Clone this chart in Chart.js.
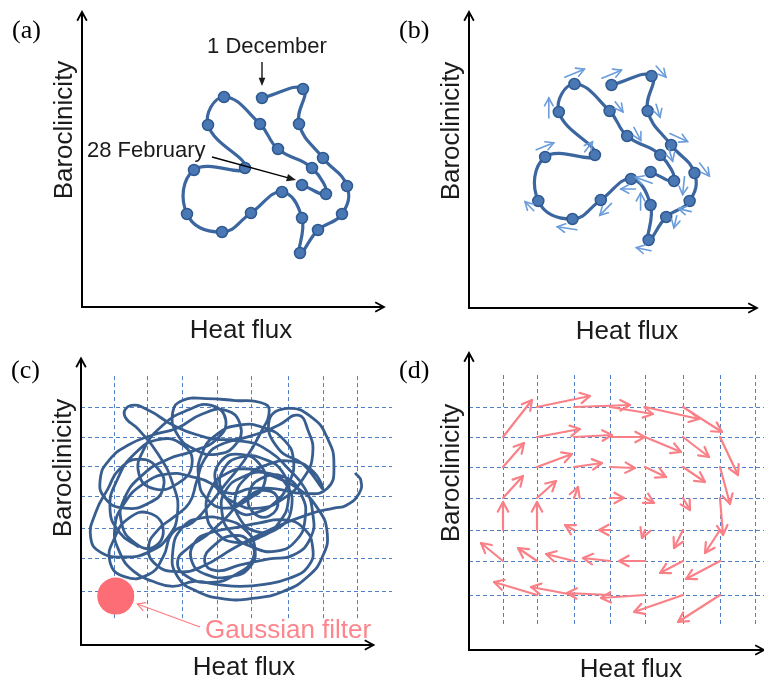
<!DOCTYPE html>
<html>
<head>
<meta charset="utf-8">
<script src="https://cdn.jsdelivr.net/npm/chart.js@4.4.1/dist/chart.umd.min.js"></script>
<style>
  body { margin: 0; background: #fff; width: 764px; height: 681px; position: relative; overflow: hidden; }
  canvas { position: absolute; }
</style>
</head>
<body>
<canvas id="pa" width="392" height="340" style="left:0;top:0"></canvas>
<canvas id="pb" width="382" height="340" style="left:382px;top:0"></canvas>
<canvas id="pc" width="392" height="341" style="left:0;top:340px"></canvas>
<canvas id="pd" width="382" height="341" style="left:382px;top:340px"></canvas>
<script>
// one winter, 1 December -> 28 February (heat flux, baroclinicity)
const dayHeat = [180, 221, 217, 241, 265, 260, 236, 218, 220, 200, 169, 140, 105, 112, 163, 126, 142, 178, 196, 230, 244, 220];
const dayBaro = [209, 218, 183, 149, 121, 93, 77, 54, 89, 115, 94, 75, 93, 137, 139, 182, 210, 183, 158, 139, 113, 122];
// tendency at each day (panel b)
const tendU = [20, 10, 4, 18, 10, -13, -3, -15, 0, -15, -12, -20, -9, 18, 8, 0, 20, 8, 7, 4, -2, -17];
const tendV = [8, -11, -13, -8, -13, 3, -12, 3, 17, 0, -12, 3, 9, 7, 10, 20, 8, -10, -13, -13, -18, 6];

// many winters stacked (panel c)
const longHeat = [60, 40, 30, 38, 55, 80, 105, 115, 100, 75, 60, 65, 85, 110, 135, 150, 140, 115, 90, 65,
  45, 42, 55, 75, 85, 70, 50, 35, 30, 45, 70, 85, 95, 115, 130, 150, 170, 185, 195,
  186, 160, 130, 105, 95, 100, 118, 140, 160, 165, 150, 125, 100, 75, 50, 30, 20, 25, 45, 70,
  85, 80, 60, 40, 28, 15, 10, 20, 45, 70, 90, 100, 95, 80, 60, 45, 52, 70, 95, 120,
  150, 180, 205, 225, 235, 240, 230, 210, 185, 160, 145, 148, 165, 190, 210, 215, 205, 185, 160, 140,
  130, 135, 150, 175, 200, 225, 245, 255, 250, 235, 210, 180, 150, 120, 100, 95, 105, 125, 150, 170,
  180, 175, 155, 130, 115, 118, 135, 160, 185, 210, 230, 240, 235, 215, 190, 165, 140, 118, 95, 75,
  55, 40, 35, 45, 65, 90, 115, 135, 150, 165, 180, 200, 215, 220, 210, 190, 165, 140, 125, 122,
  130, 150, 175, 190, 185, 165, 145, 140, 155, 175, 200, 230, 255, 262, 255, 240, 215, 195, 205, 230,
  250, 240, 218, 192, 172, 160, 164, 182, 205, 218, 212, 192, 168, 150, 146, 156, 178, 202, 222, 232,
  228, 210, 186, 174, 178, 195, 204, 192, 170, 150, 130, 112, 100, 110, 135, 160, 178, 175, 158, 138,
  128, 140, 165, 195, 220, 238, 240, 232, 215, 195, 170, 145, 128, 120, 112, 95, 80, 70, 78, 100,
  125, 160, 200, 240, 262, 275, 288, 290, 284];
const longBaro = [100, 115, 140, 170, 195, 210, 205, 185, 165, 160, 175, 200, 225, 240, 245, 230, 210, 198, 190, 175,
  150, 125, 105, 100, 120, 135, 130, 110, 85, 70, 72, 90, 115, 125, 140, 165, 190, 215, 240,
  248, 250, 252, 250, 238, 215, 200, 195, 205, 225, 240, 236, 222, 215, 205, 190, 170, 150, 140, 145,
  160, 180, 190, 180, 160, 135, 110, 95, 90, 95, 110, 135, 165, 195, 220, 235, 245, 240, 225, 215,
  210, 215, 225, 235, 220, 195, 170, 150, 140, 145, 160, 180, 192, 190, 175, 150, 125, 110, 105, 115,
  135, 160, 175, 180, 172, 160, 140, 115, 90, 70, 55, 48, 47, 55, 70, 95, 120, 130, 128, 118,
  100, 80, 70, 72, 85, 105, 115, 120, 125, 128, 120, 100, 80, 68, 62, 60, 62, 65, 60, 65,
  75, 95, 120, 145, 165, 175, 172, 165, 150, 135, 135, 145, 165, 190, 210, 222, 225, 215, 195, 170,
  150, 140, 150, 165, 185, 195, 188, 165, 155, 160, 160, 155, 160, 185, 212, 232, 242, 230, 200, 185,
  160, 178, 188, 184, 172, 152, 130, 116, 120, 140, 165, 176, 172, 158, 136, 114, 100, 96, 106, 128,
  154, 172, 170, 154, 136, 132, 148, 158, 150, 130, 112, 100, 85, 70, 64, 72, 88, 105, 112, 102,
  86, 76, 82, 88, 92, 110, 135, 160, 180, 198, 208, 205, 190, 168, 145, 130, 118, 100, 82, 75,
  80, 100, 120, 135, 140, 143, 155, 168, 176];

// bins of the phase space (panels c, d)
const gridHeat = [34, 68, 105, 141, 176, 214, 251, 286];
const gridBaro = [55, 89, 120, 152, 183, 213, 243];
const filterHeat = [36];
const filterBaro = [50];

// mean tendency in each bin (panel d): tail position and vector
const flowHeat = [68, 105, 141, 176, 214,
  34, 68, 105, 141, 176, 214, 251,
  34, 68, 105, 141, 176, 214, 251,
  34, 68, 105, 141, 176, 214, 251,
  34, 68, 105, 141, 176, 214, 251,
  34, 68, 105, 141, 176, 214, 251,
  68, 105, 141, 176, 214, 251];
const flowBaro = [243, 243, 243, 243, 243,
  213, 213, 213, 213, 213, 213, 213,
  183, 183, 183, 183, 183, 183, 183,
  152, 152, 152, 152, 152, 152, 152,
  120, 120, 120, 120, 120, 120, 120,
  89, 89, 89, 89, 89, 89, 89,
  55, 55, 55, 55, 55, 55];
const flowU = [53, 56, 43, 54, 39,
  29, 43, 38, 35, 36, 26, 18,
  21, 35, 28, 25, 21, 22, 10,
  20, 19, 4, 14, 9, 7, 3,
  0, 0, -9, -11, -3, -9, -15,
  -22, -19, -28, -27, -26, -23, -34,
  -43, -43, -43, -44, -49, -42];
const flowV = [11, 2, -7, -12, -25,
  37, 8, 2, 0, -15, -20, -38,
  24, 13, 4, -1, -10, -15, -37,
  22, 17, 11, 0, -5, -12, -37,
  28, 28, 5, 0, -8, -18, -23,
  18, 13, 7, 3, 0, -12, -18,
  13, 8, 2, -3, -17, -27];

const SANS = '"Liberation Sans", Arial, sans-serif';
const SERIF = '"Liberation Serif", "Times New Roman", serif';

function pts(xs, ys) {
  return xs.map((x, i) => ({x: x, y: ys[i]}));
}

function arrow(ctx, x1, y1, x2, y2, head, filled) {
  const a = Math.atan2(y2 - y1, x2 - x1);
  const w = filled ? 0.38 : 0.5;
  ctx.beginPath();
  ctx.moveTo(x1, y1);
  ctx.lineTo(filled ? x2 - head * 0.8 * Math.cos(a) : x2, filled ? y2 - head * 0.8 * Math.sin(a) : y2);
  ctx.stroke();
  ctx.beginPath();
  ctx.moveTo(x2 - head * Math.cos(a - w), y2 - head * Math.sin(a - w));
  ctx.lineTo(x2, y2);
  ctx.lineTo(x2 - head * Math.cos(a + w), y2 - head * Math.sin(a + w));
  if (filled) { ctx.closePath(); ctx.fill(); } else { ctx.stroke(); }
}

// axes with arrow tips, axis titles and the panel letter
function frame(letter, heatDx, heatDy) {
  return {
    id: 'frame',
    afterDraw(chart) {
      const ctx = chart.ctx, a = chart.chartArea;
      ctx.save();
      ctx.strokeStyle = '#000';
      ctx.lineWidth = 2;
      ctx.beginPath();
      ctx.moveTo(a.left, a.top + 1);
      ctx.lineTo(a.left, a.bottom);
      ctx.lineTo(a.right - 1, a.bottom);
      ctx.stroke();
      ctx.lineWidth = 1.8;
      arrow(ctx, a.left, a.bottom, a.left, a.top, 10, false);
      arrow(ctx, a.left, a.bottom, a.right, a.bottom, 10, false);

      ctx.fillStyle = '#1b1b1b';
      ctx.font = '26px ' + SANS;
      ctx.textAlign = 'center';
      ctx.textBaseline = 'alphabetic';
      ctx.fillText('Heat flux', a.left + heatDx, a.bottom + heatDy);
      ctx.translate(a.left - 10, a.bottom - 177);
      ctx.rotate(-Math.PI / 2);
      ctx.fillText('Baroclinicity', 0, 0);
      ctx.restore();

      ctx.save();
      ctx.fillStyle = '#000';
      ctx.font = '26px ' + SERIF;
      ctx.textAlign = 'left';
      ctx.fillText(letter, a.left - 70, 38);
      ctx.restore();
    }
  };
}

// dashed bins behind the data
const binGrid = {
  id: 'binGrid',
  beforeDatasetsDraw(chart) {
    const ctx = chart.ctx, a = chart.chartArea, xs = chart.scales.x, ys = chart.scales.y;
    ctx.save();
    ctx.strokeStyle = '#4f7fc6';
    ctx.lineWidth = 1;
    ctx.setLineDash([4, 3]);
    const yTop = ys.getPixelForValue(275), yBot = ys.getPixelForValue(25);
    gridHeat.forEach(v => {
      const x = Math.round(xs.getPixelForValue(v)) + 0.5;
      ctx.beginPath(); ctx.moveTo(x, yTop); ctx.lineTo(x, yBot); ctx.stroke();
    });
    gridBaro.forEach(v => {
      const y = Math.round(ys.getPixelForValue(v)) + 0.5;
      ctx.beginPath(); ctx.moveTo(a.left, y); ctx.lineTo(chart.width, y); ctx.stroke();
    });
    ctx.restore();
  }
};

function panel(id, pad, xr, yr, datasets, plugins) {
  return new Chart(document.getElementById(id), {
    type: 'scatter',
    data: {datasets: datasets},
    options: {
      responsive: false,
      animation: false,
      devicePixelRatio: 1,
      layout: {padding: pad},
      scales: {
        x: {type: 'linear', display: false, min: xr[0], max: xr[1]},
        y: {type: 'linear', display: false, min: yr[0], max: yr[1]}
      },
      plugins: {legend: {display: false}, tooltip: {enabled: false}}
    },
    plugins: plugins
  });
}

function trajectory() {
  return {
    data: pts(dayHeat, dayBaro),
    showLine: true,
    tension: 0.45,
    borderColor: '#3b669f',
    borderWidth: 3.2,
    pointRadius: 5.5,
    pointBackgroundColor: '#4a78b5',
    pointBorderColor: '#2f5a90',
    pointBorderWidth: 1.5,
    clip: false
  };
}

// (a) daily trajectory with start and end marked
panel('pa', {left: 82, top: 12, right: 8, bottom: 33}, [0, 302], [0, 295], [trajectory()], [
  frame('(a)', 159, 31),
  {
    id: 'dates',
    afterDatasetsDraw(chart) {
      const ctx = chart.ctx, xs = chart.scales.x, ys = chart.scales.y;
      const n = dayHeat.length - 1;
      const sx = xs.getPixelForValue(dayHeat[0]), sy = ys.getPixelForValue(dayBaro[0]);
      const ex = xs.getPixelForValue(dayHeat[n]), ey = ys.getPixelForValue(dayBaro[n]);
      ctx.save();
      ctx.fillStyle = '#1b1b1b';
      ctx.strokeStyle = '#000';
      ctx.lineWidth = 1.3;
      ctx.font = '22px ' + SANS;
      ctx.textAlign = 'center';
      ctx.fillText('1 December', sx + 5, sy - 45);
      arrow(ctx, sx, sy - 36, sx, sy - 12, 9, true);
      ctx.textAlign = 'left';
      ctx.fillText('28 February', 87, 157);
      arrow(ctx, 212, 157, ex - 6, ey - 5, 10, true);
      ctx.restore();
    }
  }
]);

// (b) same trajectory with its tendency vectors
panel('pb', {left: 87, top: 12, right: 0, bottom: 32}, [34, 329], [-14, 282], [trajectory()], [
  frame('(b)', 158, 31),
  {
    id: 'tendency',
    afterDatasetsDraw(chart) {
      const ctx = chart.ctx, xs = chart.scales.x, ys = chart.scales.y;
      ctx.save();
      ctx.strokeStyle = '#6b9ddb';
      ctx.lineWidth = 1.6;
      ctx.lineCap = 'round';
      dayHeat.forEach((h, i) => {
        const px = xs.getPixelForValue(h), py = ys.getPixelForValue(dayBaro[i]);
        const dx = xs.getPixelForValue(h + tendU[i]) - px;
        const dy = ys.getPixelForValue(dayBaro[i] + tendV[i]) - py;
        const len = Math.hypot(dx, dy) || 1;
        const nx = dy / len * 10, ny = -dx / len * 10;
        const tx = px + nx - 0.3 * dx, ty = py + ny - 0.3 * dy;
        arrow(ctx, tx, ty, tx + dx, ty + dy, 9, false);
      });
      ctx.restore();
    }
  }
]);

// (c) all winters, with the smoothing kernel
panel('pc', {left: 81, top: 12, right: 8, bottom: 36}, [0, 303], [0, 293], [
  {
    data: pts(longHeat, longBaro),
    showLine: true,
    tension: 0.5,
    borderColor: '#385e8f',
    borderWidth: 2.8,
    pointRadius: 0,
    clip: false
  },
  {
    data: pts(filterHeat, filterBaro),
    pointRadius: 18.5,
    pointBackgroundColor: '#fc6d76',
    pointBorderWidth: 0,
    clip: false
  }
], [
  binGrid,
  frame('(c)', 163, 30),
  {
    id: 'kernel',
    afterDatasetsDraw(chart) {
      const ctx = chart.ctx, xs = chart.scales.x, ys = chart.scales.y;
      const cx = xs.getPixelForValue(filterHeat[0]), cy = ys.getPixelForValue(filterBaro[0]);
      ctx.save();
      ctx.fillStyle = '#fd858b';
      ctx.font = '26px ' + SANS;
      ctx.textAlign = 'left';
      ctx.fillText('Gaussian filter', 205, 298);
      ctx.strokeStyle = '#fc7a80';
      ctx.lineWidth = 1.2;
      const tx = 200, ty = 287;
      const d = Math.hypot(tx - cx, ty - cy);
      arrow(ctx, tx, ty, cx + (tx - cx) / d * 23, cy + (ty - cy) / d * 23, 9, false);
      ctx.restore();
    }
  }
]);

// (d) mean tendency per bin
panel('pd', {left: 87, top: 13, right: 0, bottom: 31}, [0, 295], [0, 297], [
  {data: pts(flowHeat, flowBaro), pointRadius: 0}
], [
  binGrid,
  frame('(d)', 162, 27),
  {
    id: 'flow',
    afterDatasetsDraw(chart) {
      const ctx = chart.ctx, xs = chart.scales.x, ys = chart.scales.y;
      ctx.save();
      ctx.strokeStyle = '#f98087';
      ctx.lineWidth = 2.2;
      ctx.lineCap = 'round';
      ctx.lineJoin = 'round';
      flowHeat.forEach((h, i) => {
        const x1 = xs.getPixelForValue(h), y1 = ys.getPixelForValue(flowBaro[i]);
        const x2 = xs.getPixelForValue(h + flowU[i]), y2 = ys.getPixelForValue(flowBaro[i] + flowV[i]);
        arrow(ctx, x1, y1, x2, y2, 11, false);
      });
      ctx.restore();
    }
  }
]);
</script>
</body>
</html>
